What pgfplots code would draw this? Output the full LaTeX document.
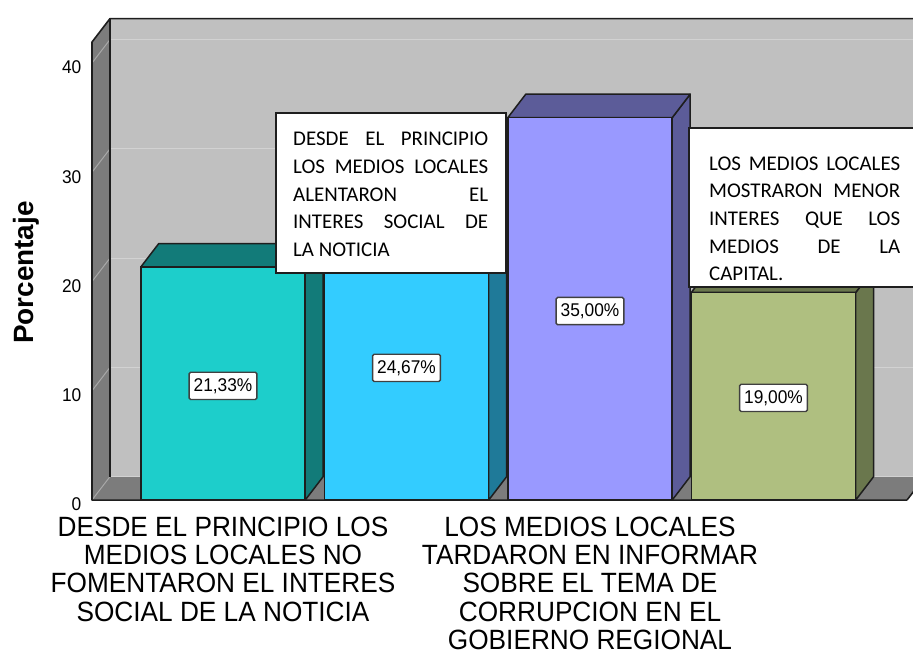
\documentclass[border=0pt]{standalone}
\usepackage{pgfplots}
\pgfplotsset{compat=1.18}
\usepackage{fontspec}
\setmainfont{Liberation Sans}
\newfontfamily\carlito{Carlito}
\newfontfamily\narrowsans[FakeStretch=0.94]{Liberation Sans}
\definecolor{backwall}{HTML}{C0C0C0}
\definecolor{sidewall}{HTML}{7C7C7C}
\definecolor{gridc}{HTML}{D2D2D2}
\definecolor{gridd}{HTML}{A8A8A8}
\definecolor{edge}{HTML}{1E1E1E}
\definecolor{fA}{HTML}{1DCECB}\definecolor{sA}{HTML}{127B79}
\definecolor{fB}{HTML}{33CCFF}\definecolor{sB}{HTML}{1F7A99}
\definecolor{fC}{HTML}{9999FF}\definecolor{sC}{HTML}{5C5C99}
\definecolor{fD}{HTML}{AFBF80}\definecolor{sD}{HTML}{6A774D}
\begin{document}
\begin{tikzpicture}
\begin{axis}[
  scale only axis, width=815bp, height=458bp,
  xmin=-0.7139, xmax=3.7275, ymin=0, ymax=41.92,
  clip=false,
  axis line style={draw=none},
  major tick length=0,
  ytick={0,10,20,30,40},
  yticklabel style={font=\narrowsans\fontsize{18.5}{20}\selectfont, inner sep=1bp, xshift=-9.5bp, yshift=-4.5bp},
  /pgf/number format/assume math mode=true,
  xtick={0,2},
  xticklabels={{DESDE EL PRINCIPIO LOS\\MEDIOS LOCALES NO\\FOMENTARON EL INTERES\\SOCIAL DE LA NOTICIA},
               {LOS MEDIOS LOCALES\\TARDARON EN INFORMAR\\SOBRE EL TEMA DE\\CORRUPCION EN EL\\GOBIERNO REGIONAL}},
  xticklabel style={align=center, font=\narrowsans\fontsize{28}{28.5}\selectfont, inner sep=1bp, yshift=-15.3bp},
]
% walls
\fill[backwall] (axis cs:-0.6158,2.15) rectangle (axis cs:3.80,44.07);
\fill[sidewall] (axis cs:-0.7139,0) -- (axis cs:-0.6158,2.15) -- (axis cs:-0.6158,44.07) -- (axis cs:-0.7139,41.92) -- cycle;
\fill[sidewall] (axis cs:-0.7139,0) -- (axis cs:3.7275,0) -- (axis cs:3.8256,2.15) -- (axis cs:-0.6158,2.15) -- cycle;
% grid
\draw[gridc, line width=1bp] (axis cs:-0.6158,12.15) -- (axis cs:3.80,12.15);
\draw[gridc, line width=1bp] (axis cs:-0.6158,22.15) -- (axis cs:3.80,22.15);
\draw[gridc, line width=1bp] (axis cs:-0.6158,32.15) -- (axis cs:3.80,32.15);
\draw[gridc, line width=1bp] (axis cs:-0.6158,42.15) -- (axis cs:3.80,42.15);
\draw[gridc, line width=0.8bp] (axis cs:-0.6158,2.15) -- (axis cs:3.80,2.15);
\draw[gridd, line width=1bp] (axis cs:-0.7139,0) -- (axis cs:-0.6158,2.15);
\draw[gridd, line width=1bp] (axis cs:-0.7139,10) -- (axis cs:-0.6158,12.15);
\draw[gridd, line width=1bp] (axis cs:-0.7139,20) -- (axis cs:-0.6158,22.15);
\draw[gridd, line width=1bp] (axis cs:-0.7139,30) -- (axis cs:-0.6158,32.15);
\draw[gridd, line width=1bp] (axis cs:-0.7139,40) -- (axis cs:-0.6158,42.15);
% frame edges
\draw[edge, line width=1.6bp, line join=round] (axis cs:3.7275,0) -- (axis cs:-0.7139,0) -- (axis cs:-0.7139,41.92) -- (axis cs:-0.6158,44.07) -- (axis cs:3.80,44.07);
\draw[edge, line width=1.6bp] (axis cs:-0.6158,2.15) -- (axis cs:-0.6158,44.07);
\draw[edge, line width=1.6bp] (axis cs:3.7275,0) -- (axis cs:3.8256,2.15);
% bar 1
\addplot[fill=sA, draw=edge, line width=1.5bp, line join=round] coordinates {(0.448,0) (0.546,2.15) (0.546,23.48) (0.448,21.33) (0.448,0)};
\addplot[fill=sA, draw=edge, line width=1.5bp, line join=round] coordinates {(-0.448,21.33) (0.448,21.33) (0.546,23.48) (-0.350,23.48) (-0.448,21.33)};
\addplot[ybar, bar width=0.896, bar shift=0pt, fill=fA, draw=edge, line width=1.5bp] coordinates {(0,21.33)};
% bar 2
\addplot[fill=sB, draw=edge, line width=1.5bp, line join=round] coordinates {(1.448,0) (1.546,2.15) (1.546,26.82) (1.448,24.67) (1.448,0)};
\addplot[fill=sB, draw=edge, line width=1.5bp, line join=round] coordinates {(0.552,24.67) (1.448,24.67) (1.546,26.82) (0.650,26.82) (0.552,24.67)};
\addplot[ybar, bar width=0.896, bar shift=0pt, fill=fB, draw=edge, line width=1.5bp] coordinates {(1,24.67)};
% bar 3
\addplot[fill=sC, draw=edge, line width=1.5bp, line join=round] coordinates {(2.448,0) (2.546,2.15) (2.546,37.15) (2.448,35.00) (2.448,0)};
\addplot[fill=sC, draw=edge, line width=1.5bp, line join=round] coordinates {(1.552,35.00) (2.448,35.00) (2.546,37.15) (1.650,37.15) (1.552,35.00)};
\addplot[ybar, bar width=0.896, bar shift=0pt, fill=fC, draw=edge, line width=1.5bp] coordinates {(2,35.00)};
% bar 4
\addplot[fill=sD, draw=edge, line width=1.5bp, line join=round] coordinates {(3.448,0) (3.546,2.15) (3.546,21.15) (3.448,19.00) (3.448,0)};
\addplot[fill=sD, draw=edge, line width=1.5bp, line join=round] coordinates {(2.552,19.00) (3.448,19.00) (3.546,21.15) (2.650,21.15) (2.552,19.00)};
\addplot[ybar, bar width=0.896, bar shift=0pt, fill=fD, draw=edge, line width=1.5bp] coordinates {(3,19.00)};
% value labels
\tikzset{vlab/.style={draw=edge!85, fill=white, line width=1.4bp, rounded corners=1.5bp, inner xsep=4.5bp, inner ysep=6bp, font=\narrowsans\fontsize{18.5}{20}\selectfont}}
\node[vlab] at (axis cs:0,10.45) {21,33\%};
\node[vlab] at (axis cs:1,12.1) {24,67\%};
\node[vlab] at (axis cs:2,17.3) {35,00\%};
\node[vlab] at (axis cs:3,9.35) {19,00\%};
% annotation boxes
\draw[edge, line width=1.3bp, fill=white] (axis cs:0.2888,20.78) rectangle (axis cs:1.5422,35.42);
\node[anchor=north west, inner sep=0pt, text width=195bp, align=justify, font=\carlito\fontsize{21}{28}\selectfont] at (axis cs:0.3815,33.73)
  {DESDE EL PRINCIPIO\linebreak LOS MEDIOS LOCALES\linebreak ALENTARON EL\linebreak INTERES SOCIAL DE\linebreak LA NOTICIA};
\draw[edge, line width=1.3bp, fill=white] (axis cs:2.5395,19.50) rectangle (axis cs:3.853,34.05);
\node[anchor=north west, inner sep=0pt, text width=191bp, align=justify, font=\carlito\fontsize{21}{27.75}\selectfont] at (axis cs:2.6485,31.46)
  {LOS MEDIOS LOCALES\linebreak MOSTRARON MENOR\linebreak INTERES QUE LOS\linebreak MEDIOS DE LA\linebreak CAPITAL.};
% y label
\node[rotate=90, anchor=base, font=\bfseries\fontsize{28}{32}\selectfont] at (axis cs:-1.0354,20.82) {Porcentaje};
% bounding box corners
\coordinate (bbSW) at (axis cs:-1.2153,-14.19);
\coordinate (bbNE) at (axis cs:3.7602,45.77);
\end{axis}
\pgfresetboundingbox
\path[use as bounding box] (bbSW) rectangle (bbNE);
\end{tikzpicture}
\end{document}
